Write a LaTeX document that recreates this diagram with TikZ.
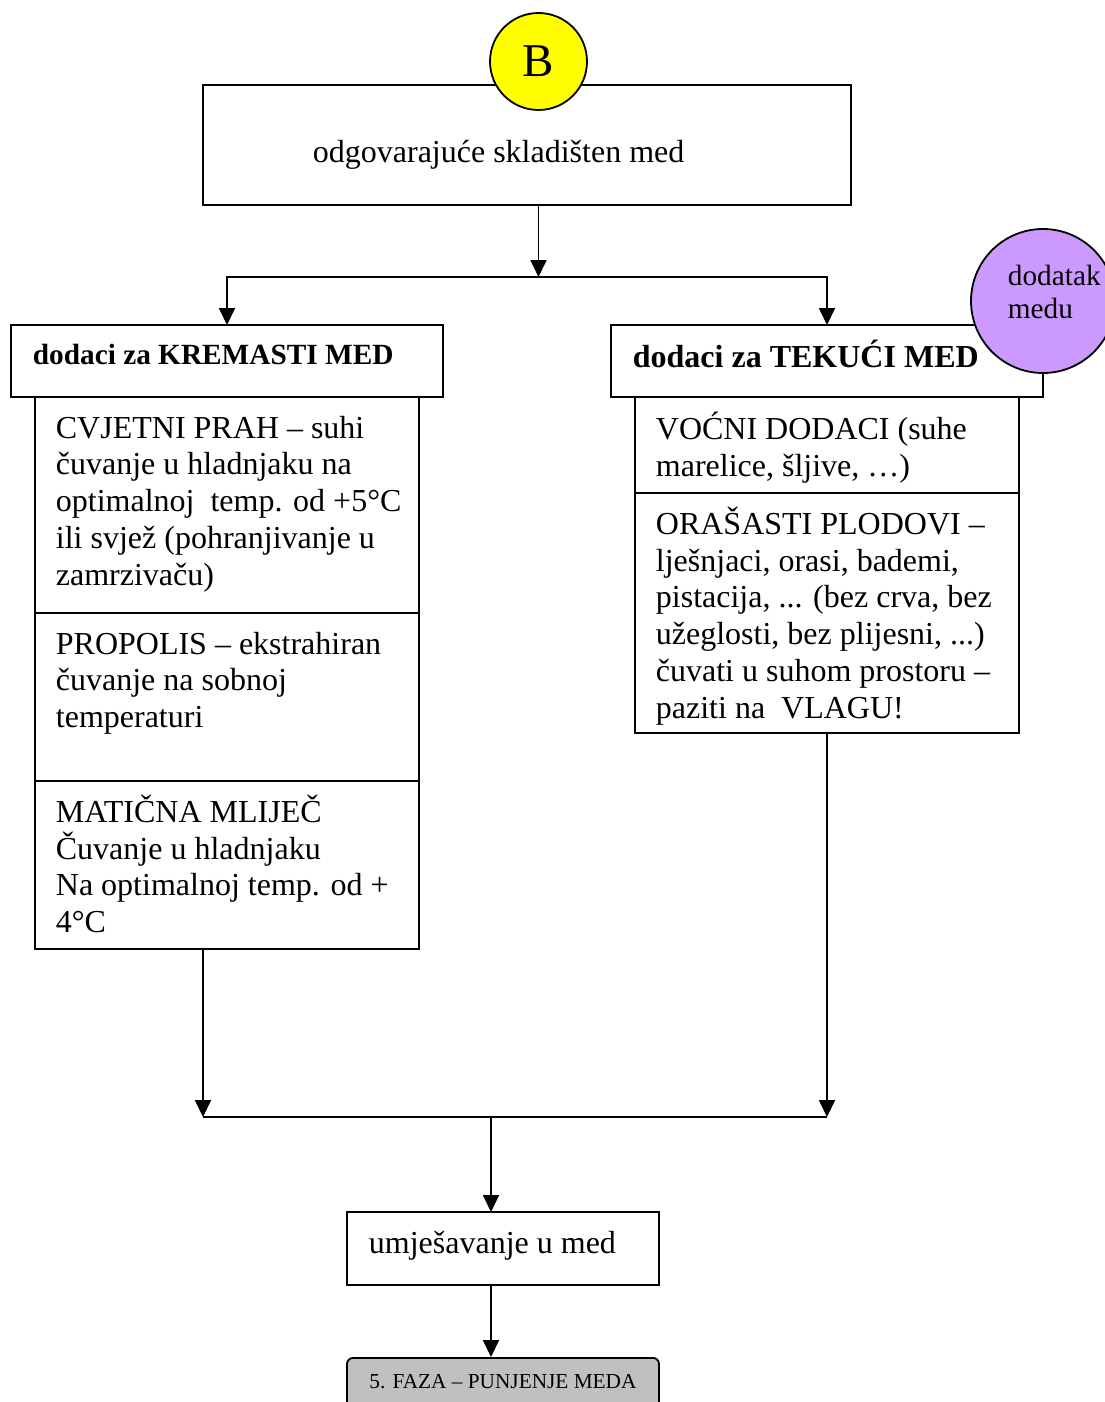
\documentclass[tikz,border=0pt]{standalone}
\usepackage{fontspec}
\setmainfont{Liberation Serif}
\usetikzlibrary{arrows.meta}
\definecolor{bee}{HTML}{FFFF00}
\definecolor{lila}{HTML}{CC99FF}
\definecolor{siva}{HTML}{C0C0C0}
\begin{document}
\begin{tikzpicture}[x=1pt,y=-1pt,
  line width=1.8pt,
  boxx/.style={draw, rectangle, inner sep=0pt, outer sep=0pt},
  arr/.style={-{Triangle[width=16pt,length=17pt]}},
  bigtxt/.style={inner sep=0pt, align=left, anchor=north west,
    font=\fontsize{32}{36.75}\selectfont, execute at begin node={\rule{0pt}{30pt}}},
  onetxt/.style={inner sep=0pt, anchor=base west, font=\fontsize{32}{36.75}\selectfont},
  headtxt/.style={inner sep=0pt, anchor=base west, font=\bfseries\fontsize{29.3}{33.7}\selectfont}
]
\useasboundingbox (0,0) rectangle (1105,1402);
\clip (0,0) rectangle (1105,1402);

% top box and B
\node[boxx, minimum width=648pt, minimum height=120pt] (top) at (527,145) {};
\node[onetxt] (ttop) at (312,162) {odgovarajuće skladišten med};
\node[draw, circle, fill=bee, minimum size=97pt, inner sep=0pt, font=\fontsize{47}{50}\selectfont] (B) at (538.5,61.5) {B};

% headers
\node[boxx, minimum width=432pt, minimum height=72pt] (lhead) at (227,361) {};
\node[headtxt] (tlhead) at (32,364) {dodaci za KREMASTI MED};
\node[boxx, minimum width=432pt, minimum height=72pt] (rhead) at (827,361) {};
\node[headtxt, font=\bfseries\fontsize{32}{36}\selectfont] (trhead) at (632,367) {dodaci za TEKUĆI MED};

% purple circle
\node[draw, circle, fill=lila, minimum size=144pt, inner sep=0pt] (dod) at (1043,301) {};
\node[inner sep=0pt, align=left, anchor=north west, font=\fontsize{29.3}{33}\selectfont] (tdod) at (1007,256) {\rule{0pt}{29pt}dodatak\\medu};

% left column
\node[boxx, minimum width=384pt, minimum height=216pt] (l1) at (227,505) {};
\node[boxx, minimum width=384pt, minimum height=168pt] (l2) at (227,697) {};
\node[boxx, minimum width=384pt, minimum height=168pt] (l3) at (227,865) {};
\node[bigtxt] (tl1) at (55,415) {CVJETNI PRAH – suhi\\čuvanje u hladnjaku na\\optimalnoj\ \ temp. od +5°C\\ili svjež (pohranjivanje u\\zamrzivaču)};
\node[bigtxt] (tl2) at (55,631) {PROPOLIS – ekstrahiran\\čuvanje na sobnoj\\temperaturi};
\node[bigtxt] (tl3) at (55,794) {MATIČNA MLIJEČ\\Čuvanje u hladnjaku\\Na optimalnoj temp. od +\\4°C};

% right column
\node[boxx, minimum width=384pt, minimum height=96pt] (r1) at (827,445) {};
\node[boxx, minimum width=384pt, minimum height=240pt] (r2) at (827,613) {};
\node[bigtxt] (tr1) at (655,411) {VOĆNI DODACI (suhe\\marelice, šljive, …)};
\node[bigtxt] (tr2) at (655,506) {ORAŠASTI PLODOVI –\\lješnjaci, orasi, bademi,\\pistacija, ... (bez crva, bez\\užeglosti, bez plijesni, ...)\\čuvati u suhom prostoru –\\paziti na\ \ VLAGU!};

% mix and faza
\node[boxx, minimum width=312pt, minimum height=73pt] (mix) at (503,1248.5) {};
\node[onetxt] (tmix) at (368,1253) {umješavanje u med};
\node[draw, rounded corners=6pt, fill=siva, anchor=north, minimum width=312pt,
  inner xsep=0pt, inner ysep=17pt, text height=14pt, text depth=50pt,
  font=\fontsize{21.3}{24}\selectfont] (faza) at (503,1357) {5. FAZA – PUNJENJE MEDA};

% connectors
\coordinate (j1) at (538.5,277);
\coordinate (j2) at (491,1117);
\coordinate (lb) at (203,949);
\draw[arr] (top.south -| B.center) -- (j1);
\draw[arr] (j1) -| (lhead.north);
\draw[arr] (j1) -| (rhead.north);
\draw[arr] (lb) -- (lb |- j2);
\draw[arr] (r2.south) -- (r2.south |- j2);
\draw (lb |- j2) -- (r2.south |- j2);
\draw[arr] (j2) -- (j2 |- mix.north);
\draw[arr] (mix.south -| j2) -- (j2 |- faza.north);
\end{tikzpicture}
\end{document}
